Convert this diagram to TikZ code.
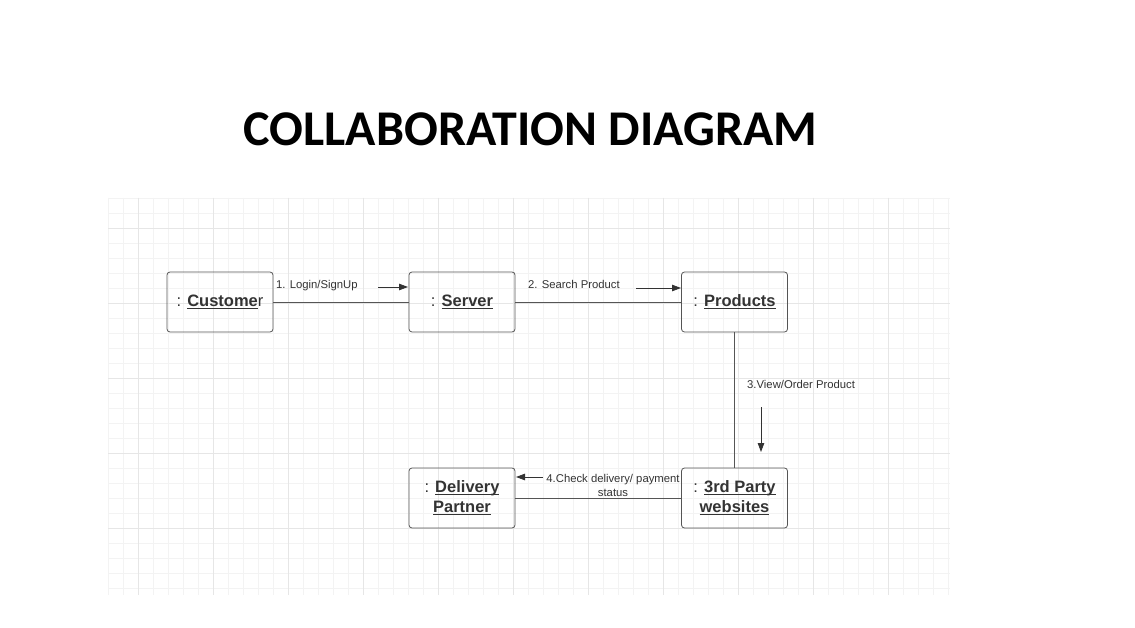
\documentclass[tikz,border=0pt]{standalone}
\usepackage{fontspec}
\setmainfont{Liberation Sans}
\newfontfamily\titlefont{Carlito}
\usetikzlibrary{arrows.meta}
\definecolor{txt}{HTML}{333333}
\definecolor{edge}{HTML}{555555}
\definecolor{gridminor}{HTML}{F3F3F3}
\definecolor{gridmajor}{HTML}{E6E6E6}
\newlength\myulw
\newcommand\myul[1]{\settowidth{\myulw}{\textbf{#1}}\rlap{\rule[-2.8pt]{\myulw}{1.2pt}}\textbf{#1}}
\tikzset{
  objbox/.style={draw=edge, line width=0.8pt, rounded corners=3pt, minimum width=106pt, minimum height=60pt, align=center, text=txt, font=\fontsize{16.5}{20}\selectfont, inner sep=0pt},
  conn/.style={draw=edge, line width=0.9pt},
  msg/.style={draw=txt, line width=0.8pt, -{Triangle[length=9pt,width=6.5pt]}},
  lbl/.style={text=txt, font=\fontsize{11.3}{14}\selectfont, inner sep=0pt}
}
\begin{document}
\begin{tikzpicture}[x=1pt,y=-1pt]
\useasboundingbox (0,0) rectangle (1135,628);
\fill[white] (0,0) rectangle (1135,628);
% grid
\foreach \x in {108,123,...,948} \draw[gridminor, line width=0.6pt] (\x,198) -- (\x,595);
\foreach \y in {198,213,...,593} \draw[gridminor, line width=0.6pt] (108,\y) -- (950,\y);
\foreach \x in {138,213,...,888} \draw[gridmajor, line width=0.7pt] (\x,198) -- (\x,595);
\foreach \y in {228,303,...,528} \draw[gridmajor, line width=0.7pt] (108,\y) -- (950,\y);
% title
\node[anchor=base, inner sep=0pt, font=\titlefont\bfseries\fontsize{50}{60}\selectfont] (title) at (530.5,146) {COLLABORATION DIAGRAM};
% objects
\node[objbox] (cust) at (220,302) {: \myul{Custome}r};
\node[objbox] (serv) at (462,302) {: \myul{Server}};
\node[objbox] (prod) at (734.5,302) {: \myul{Products}};
\node[objbox] (deliv) at (462,498) {: \myul{Delivery}\\\myul{Partner}};
\node[objbox] (third) at (734.5,498) {: \myul{3rd Party}\\\myul{websites}};
% links
\draw[conn] (cust.east) -- (serv.west);
\draw[conn] (serv.east) -- (prod.west);
\draw[conn] (prod.south) -- (third.north);
\draw[conn] (third.west) -- (deliv.east);
% messages
\node[lbl, anchor=base west] (l1) at (276,289) {1. Login/SignUp};
\coordinate (a1s) at (378,287);
\coordinate (a1e) at (408,287);
\draw[msg] (a1s) -- (a1e);
\node[lbl, anchor=base west] (l2) at (528,289) {2. Search Product};
\coordinate (a2s) at (636,288);
\coordinate (a2e) at (681,288);
\draw[msg] (a2s) -- (a2e);
\node[lbl, anchor=base west] (l3) at (747,388) {3.View/Order Product};
\coordinate (a3s) at (761,407);
\coordinate (a3e) at (761,452);
\draw[msg] (a3s) -- (a3e);
\node[lbl, align=center] (l4) at (613,485) {4.Check delivery/ payment\\status};
\coordinate (a4s) at (543,477);
\coordinate (a4e) at (516,477);
\draw[msg] (a4s) -- (a4e);
\end{tikzpicture}
\end{document}
